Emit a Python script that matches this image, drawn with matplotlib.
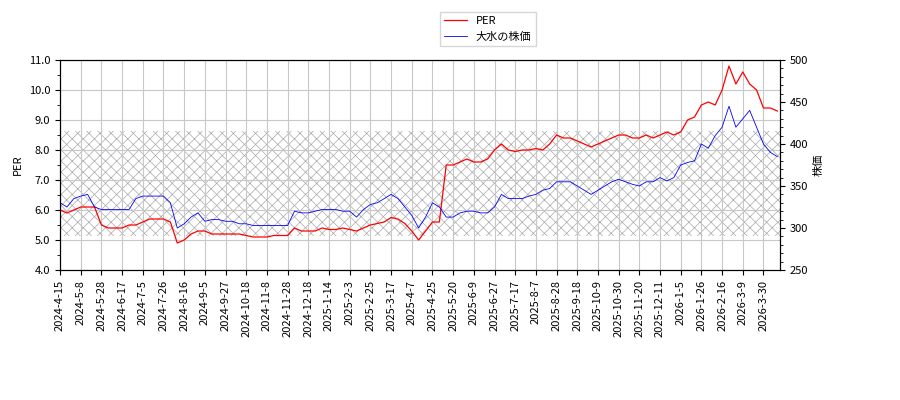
import matplotlib.pyplot as plt
from matplotlib.ticker import MultipleLocator

plt.rcParams['font.family'] = ['Noto Sans CJK JP', 'DejaVu Sans']
plt.rcParams['font.size'] = 8
plt.rcParams['hatch.linewidth'] = 0.5

# weekly samples on a trading-day index (5 trading days apart)
x = list(range(0, 525, 5))
per = [6.0, 5.9, 6.0, 6.1, 6.1, 6.1, 5.5, 5.4, 5.4, 5.4, 5.5, 5.5, 5.6, 5.7, 5.7, 5.7,
       5.6, 4.9, 5.0, 5.2, 5.3, 5.3, 5.2, 5.2, 5.2, 5.2, 5.2, 5.15, 5.1, 5.1, 5.1, 5.15,
       5.15, 5.15, 5.4, 5.3, 5.3, 5.3, 5.4, 5.35, 5.35, 5.4, 5.35, 5.3, 5.4, 5.5, 5.55, 5.6,
       5.75, 5.7, 5.55, 5.3, 5.0, 5.3, 5.6, 5.6, 7.5, 7.5, 7.6, 7.7, 7.6, 7.6, 7.7, 8.0,
       8.2, 8.0, 7.95, 8.0, 8.0, 8.05, 8.0, 8.2, 8.5, 8.4, 8.4, 8.3, 8.2, 8.1, 8.2, 8.3,
       8.4, 8.5, 8.5, 8.4, 8.4, 8.5, 8.4, 8.5, 8.6, 8.5, 8.6, 9.0, 9.1, 9.5, 9.6, 9.5,
       10.0, 10.8, 10.2, 10.6, 10.2, 10.0, 9.4, 9.4, 9.3]
price = [330, 325, 335, 338, 340, 325, 322, 322, 322, 322, 322, 335, 338, 338, 338, 338,
         330, 300, 305, 313, 318, 308, 310, 310, 308, 308, 305, 305, 303, 303, 303, 303,
         303, 303, 320, 318, 318, 320, 322, 322, 322, 320, 320, 313, 322, 328, 330, 335,
         340, 335, 325, 315, 300, 313, 330, 325, 313, 313, 318, 320, 320, 318, 318, 325,
         340, 335, 335, 335, 338, 340, 345, 347, 355, 355, 355, 350, 345, 340, 345, 350,
         355, 358, 355, 352, 350, 355, 355, 360, 356, 360, 375, 378, 380, 400, 395, 410,
         420, 445, 420, 430, 440, 420, 400, 390, 385]
tick_labels = ['2024-4-15', '2024-5-8', '2024-5-28', '2024-6-17', '2024-7-5', '2024-7-26',
               '2024-8-16', '2024-9-5', '2024-9-27', '2024-10-18', '2024-11-8', '2024-11-28',
               '2024-12-18', '2025-1-14', '2025-2-3', '2025-2-25', '2025-3-17', '2025-4-7',
               '2025-4-25', '2025-5-20', '2025-6-9', '2025-6-27', '2025-7-17', '2025-8-7',
               '2025-8-28', '2025-9-18', '2025-10-9', '2025-10-30', '2025-11-20', '2025-12-11',
               '2026-1-5', '2026-1-26', '2026-2-16', '2026-3-9', '2026-3-30']
tick_pos = [i * 15 for i in range(len(tick_labels))]
band_low, band_high = 5.13, 8.63

fig = plt.figure(figsize=(9, 4), dpi=100)
ax = fig.add_axes([0.0667, 0.325, 0.8, 0.525])
ax.axhspan(band_low, band_high, facecolor='none', edgecolor='#aaaaaa', hatch='xxx', linewidth=0)
l1, = ax.plot(x, per, color='red', linewidth=0.9, label='PER')
ax.set_xlim(0, 522)
ax.set_ylim(4, 11)
ax.yaxis.set_major_locator(MultipleLocator(1))
ax.yaxis.set_minor_locator(MultipleLocator(0.5))
ax.yaxis.set_major_formatter('{x:.1f}')
ax.set_xticks(tick_pos)
ax.set_xticklabels(tick_labels, rotation=90)
ax.grid(True, color='#c8c8c8', linewidth=0.8)
ax.set_ylabel('PER')

ax2 = ax.twinx()
l2, = ax2.plot(x, price, color='blue', linewidth=0.6, label='大水の株価')
ax2.set_ylim(250, 500)
ax2.yaxis.set_major_locator(MultipleLocator(50))
ax2.yaxis.set_minor_locator(MultipleLocator(10))
ax2.set_ylabel('株価')

fig.legend(handles=[l1, l2], loc='upper center', bbox_to_anchor=(0.542, 0.985), fancybox=False)
fig.savefig('out.png')
